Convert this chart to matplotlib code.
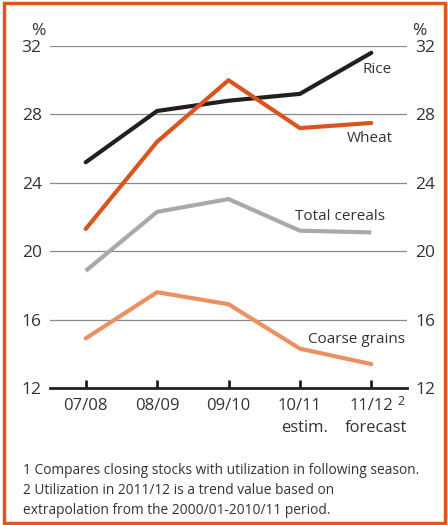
import matplotlib.pyplot as plt
from matplotlib.patches import Rectangle
from matplotlib.transforms import blended_transform_factory

plt.rcParams['font.family'] = ['Open Sans', 'DejaVu Sans']

# Data
seasons = ['07/08', '08/09', '09/10', '10/11', '11/12']
season_notes = ['', '', '', 'estim.', 'forecast']
rice = [25.2, 28.2, 28.8, 29.2, 31.6]
wheat = [21.3, 26.4, 30.0, 27.2, 27.5]
total_cereals = [18.85, 22.3, 23.05, 21.2, 21.1]
coarse_grains = [14.9, 17.6, 16.9, 14.3, 13.4]
yticks = [12, 16, 20, 24, 28, 32]
footnotes = ['1 Compares closing stocks with utilization in following season.',
             '2 Utilization in 2011/12 is a trend value based on',
             'extrapolation from the 2000/01-2010/11 period.']

text_col = '#333333'
fig = plt.figure(figsize=(4.48, 5.25), dpi=100)
ax = fig.add_axes([50/448, 1 - 388/525, 357/448, 342/525])

x = list(range(len(seasons)))
ax.plot(x, rice, color='#231f20', lw=3, solid_capstyle='round', zorder=3)
ax.plot(x, wheat, color='#d9541e', lw=3, solid_capstyle='round', zorder=3)
ax.plot(x, total_cereals, color='#a7a9ac', lw=3, solid_capstyle='butt', zorder=3)
ax.plot(x, coarse_grains, color='#eb9063', lw=3, solid_capstyle='round', zorder=3)

# Series labels
lbl_kw = dict(ha='right', va='center', fontsize=11, color=text_col)
ax.text(4.29, 30.6, 'Rice', **lbl_kw)
ax.text(4.30, 26.6, 'Wheat', **lbl_kw)
ax.text(4.19, 22.0, 'Total cereals', **lbl_kw)
ax.text(4.47, 14.85, 'Coarse grains', **lbl_kw)

ax.set_xlim(-0.5, 4.5)
ax.set_ylim(12, 32)
for y in yticks[1:]:
    ax.axhline(y, color='#8a8a8a', lw=0.9, zorder=1)

for side in ['top', 'left', 'right']:
    ax.spines[side].set_visible(False)
ax.spines['bottom'].set_linewidth(2)
ax.spines['bottom'].set_color('#231f20')

ax.set_yticks(yticks)
ax.tick_params(axis='y', length=0, labelsize=12.5, labelcolor=text_col, pad=6,
               labelleft=True, labelright=True)
ax.set_xticks(x)
ax.set_xticklabels(seasons, fontsize=12, color=text_col)
ax.tick_params(axis='x', direction='in', length=6, width=2, color='#231f20', pad=7)

# second line under ticks
trans = blended_transform_factory(ax.transData, ax.transAxes)
for xi, note in zip(x, season_notes):
    if note:
        ax.text(xi + 0.07, -40/342, note, transform=trans, fontsize=12, color=text_col,
                ha='center', va='center')

# superscript on last tick
ax.text(4.37, -7/342, '2', transform=trans, fontsize=9, color=text_col,
        ha='left', va='top')

# percent signs
ax.text(-0.57, 32.4, '%', fontsize=12.5, color=text_col, ha='right', va='bottom')
ax.text(4.57, 32.4, '%', fontsize=12.5, color=text_col, ha='left', va='bottom')

for i, line in enumerate(footnotes):
    fig.text(23/448, 1 - (470 + i*20.5)/525, line, fontsize=9.9, color=text_col,
             ha='left', va='center')

fig.patches.append(Rectangle((4/448, 2/525), 441/448, 520/525, transform=fig.transFigure,
                             fill=False, edgecolor='#e0561e', lw=2.5))

fig.savefig('out.png', dpi=100)
